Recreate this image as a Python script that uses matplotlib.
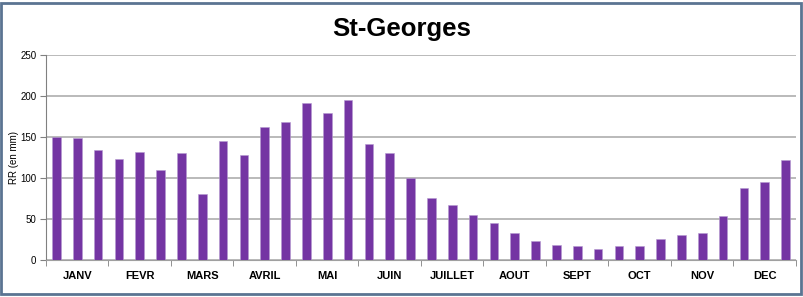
import numpy as np
import matplotlib
matplotlib.use('Agg')
from matplotlib import pyplot as plt
from matplotlib.patches import Rectangle

months = ['JANV', 'FEVR', 'MARS', 'AVRIL', 'MAI', 'JUIN',
          'JUILLET', 'AOUT', 'SEPT', 'OCT', 'NOV', 'DEC']
# rainfall per decade (3 per month), mm
rr = [150, 148.5, 133.4, 122.8, 131.7, 109.3, 130.5, 80.3, 144.8,
      127.7, 162.3, 168, 191.3, 179.4, 194.5, 141.1, 129.7, 99.1,
      75, 66.5, 54.6, 44.5, 32.6, 22.4, 17.5, 15.9, 12.6, 15.9,
      16.7, 25.3, 29.4, 32.2, 52.6, 86.9, 94.2, 121.1]
yticks = [0, 50, 100, 150, 200, 250]

plt.rcParams['font.family'] = ['Liberation Sans', 'DejaVu Sans']

fig = plt.figure(figsize=(8.04, 2.97), dpi=100)
ax = fig.add_axes([46/804, 1-259.5/297, 750/804, 204.5/297])

x = np.arange(len(rr))
ax.bar(x, rr, width=0.41, color='#7435a3', edgecolor='#b49ad0', linewidth=0.4, zorder=3)
ax.set_xlim(-0.5, len(rr)-0.5)
ax.set_ylim(0, 250)
ax.set_yticks(yticks)
ax.tick_params(axis='y', labelsize=7, length=4, color='#808080', pad=3)
ax.yaxis.grid(True, color='#b4b4b4', linewidth=1.3, zorder=0)
ax.set_ylabel('RR (en mm)', fontsize=7, labelpad=1)

# month labels at group centres, tick marks at group boundaries
ax.set_xticks(np.arange(1, 36, 3))
ax.set_xticklabels(months, fontsize=8, fontweight='bold')
ax.set_xticks(np.arange(-0.5, 36, 3), minor=True)
ax.tick_params(axis='x', which='major', length=0, pad=8)
ax.tick_params(axis='x', which='minor', length=4, color='#808080')

for s in ['top', 'right']:
    ax.spines[s].set_visible(False)
ax.spines['left'].set_color('#808080')
ax.spines['bottom'].set_color('#a0a0a0')

fig.text(0.5, 1-36/297, 'St-Georges', ha='center', va='baseline',
         fontsize=18.5, fontweight='bold')

fig.patches.append(Rectangle((1/804, 3/297), 800/804, 291/297,
                             transform=fig.transFigure, fill=False,
                             edgecolor='#5b7492', linewidth=2))

fig.savefig('out.png', dpi=100)
